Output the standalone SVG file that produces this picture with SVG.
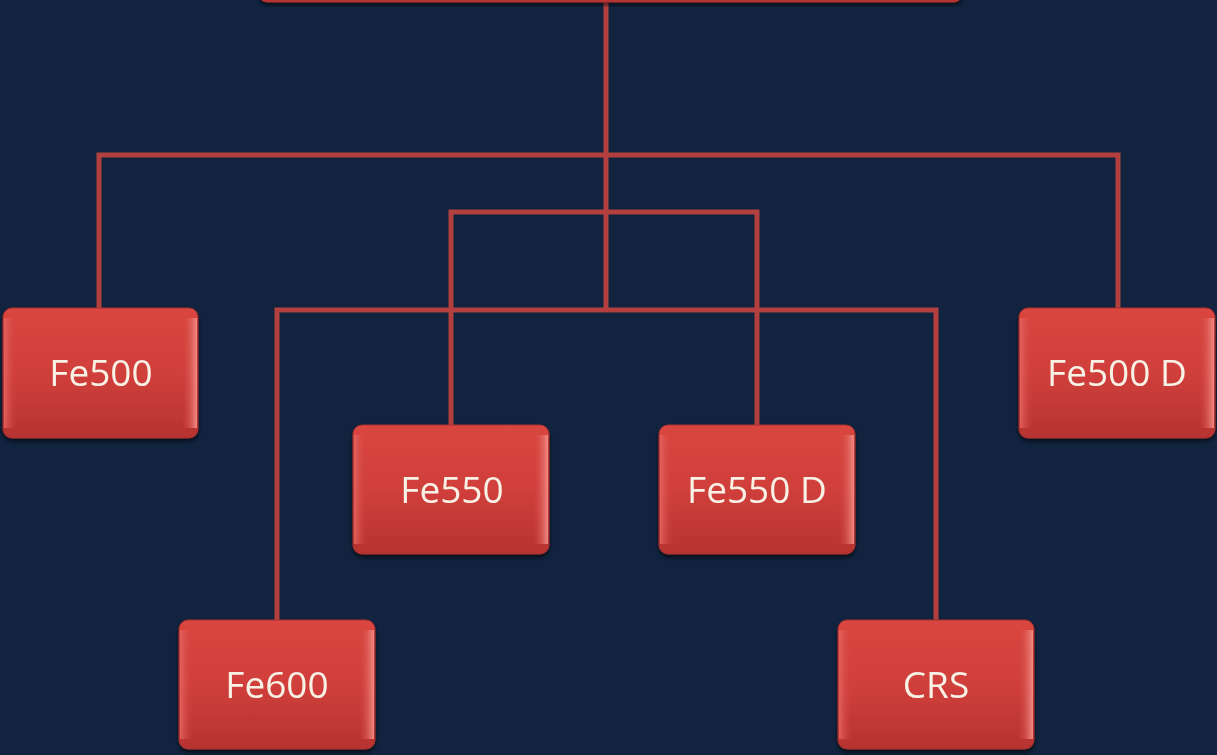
<svg xmlns="http://www.w3.org/2000/svg" width="1217" height="755" viewBox="0 0 1217 755">
<defs>
<linearGradient id="fill" x1="0" y1="0" x2="0" y2="1">
<stop offset="0" stop-color="#d9463f"/>
<stop offset="0.5" stop-color="#d03f3b"/>
<stop offset="1" stop-color="#b63331"/>
</linearGradient>
<linearGradient id="side" x1="0" y1="0" x2="1" y2="0">
<stop offset="0" stop-color="#e56560" stop-opacity="0.9"/>
<stop offset="0.07" stop-color="#cf3e3a" stop-opacity="0"/>
<stop offset="0.92" stop-color="#cf3e3a" stop-opacity="0"/>
<stop offset="1" stop-color="#f08a84"/>
</linearGradient>
<filter id="sh" x="-10%" y="-10%" width="120%" height="130%">
<feGaussianBlur in="SourceAlpha" stdDeviation="2"/>
<feOffset dy="3"/>
<feComponentTransfer><feFuncA type="linear" slope="0.6"/></feComponentTransfer>
<feMerge><feMergeNode/><feMergeNode in="SourceGraphic"/></feMerge>
</filter>
</defs>
<style>
.box{fill:url(#fill);stroke:#a8302d;stroke-width:1}
.bev{fill:url(#side);stroke:none}
.lbl{font-family:"Open Sans","Liberation Sans",sans-serif;font-size:37px;fill:#f7f1e6;text-anchor:middle}
.ln{fill:none;stroke:#b3403e;stroke-width:5}
</style>
<rect width="1217" height="755" fill="#11233f"/>
<g id="connectors">
<path class="ln" d="M606 0V310"/>
<path class="ln" d="M99 308V155H1118V308"/>
<path class="ln" d="M451 425V212H757V425"/>
<path class="ln" d="M277 620V310H936V620"/>
</g>
<g id="top" filter="url(#sh)">
<rect class="box" x="259" y="-20" width="703" height="22" rx="8"/>
</g>
<g id="fe500" filter="url(#sh)">
<rect class="box" x="3" y="308" width="195" height="130" rx="9"/>
<rect class="bev" x="4" y="318" width="193" height="110"/>
<text class="lbl" x="101" y="386">Fe500</text>
</g>
<g id="fe550" filter="url(#sh)">
<rect class="box" x="353" y="425" width="196" height="129" rx="9"/>
<rect class="bev" x="354" y="435" width="194" height="109"/>
<text class="lbl" x="452" y="503">Fe550</text>
</g>
<g id="fe550d" filter="url(#sh)">
<rect class="box" x="659" y="425" width="196" height="129" rx="9"/>
<rect class="bev" x="660" y="435" width="194" height="109"/>
<text class="lbl" x="757" y="503">Fe550 D</text>
</g>
<g id="fe500d" filter="url(#sh)">
<rect class="box" x="1019" y="308" width="196" height="130" rx="9"/>
<rect class="bev" x="1020" y="318" width="194" height="110"/>
<text class="lbl" x="1117" y="386">Fe500 D</text>
</g>
<g id="fe600" filter="url(#sh)">
<rect class="box" x="179" y="620" width="196" height="129" rx="9"/>
<rect class="bev" x="180" y="630" width="194" height="109"/>
<text class="lbl" x="277" y="698">Fe600</text>
</g>
<g id="crs" filter="url(#sh)">
<rect class="box" x="838" y="620" width="196" height="129" rx="9"/>
<rect class="bev" x="839" y="630" width="194" height="109"/>
<text class="lbl" x="936" y="698">CRS</text>
</g>
</svg>
